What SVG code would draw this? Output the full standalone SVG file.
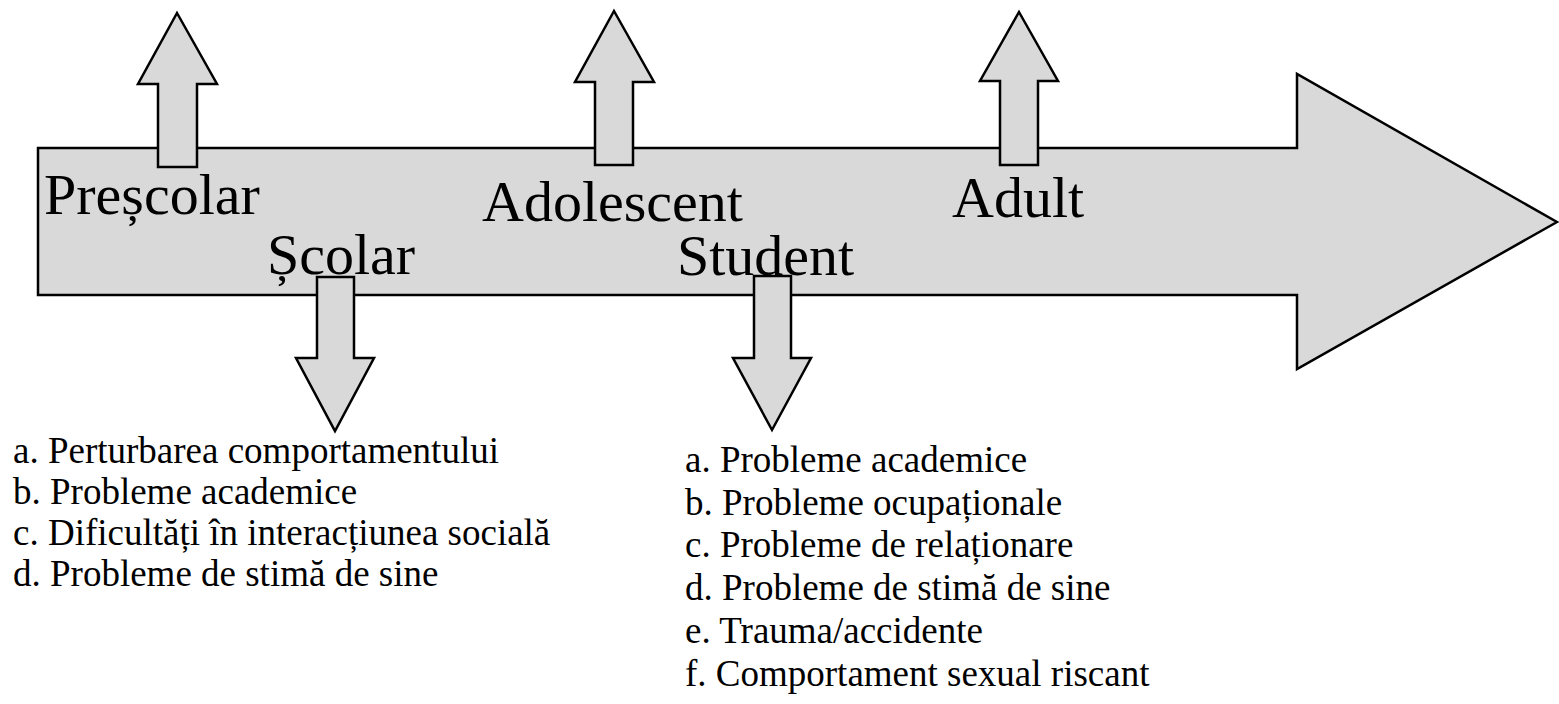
<svg xmlns="http://www.w3.org/2000/svg" width="1559" height="704" viewBox="0 0 1559 704">
  <style>
    .shape { fill: #d9d9d9; stroke: #000; stroke-width: 2.5; stroke-linejoin: miter; }
    .stage { font-family: "Liberation Serif", "Times New Roman", serif; font-size: 58px; fill: #000; }
    .item { font-family: "Liberation Serif", "Times New Roman", serif; font-size: 37px; fill: #000; }
  </style>
  <rect width="1559" height="704" fill="#fff"/>

  <!-- main timeline arrow -->
  <g id="timeline">
    <polygon class="shape" points="38,148 1297,148 1297,74 1557,222 1297,369 1297,295 38,295"/>
  </g>

  <!-- stage labels -->
  <g id="labels">
    <text class="stage" x="44" y="214">Preșcolar</text>
    <text class="stage" x="267" y="274">Școlar</text>
    <text class="stage" x="482" y="221">Adolescent</text>
    <text class="stage" x="677" y="275">Student</text>
    <text class="stage" x="952" y="217">Adult</text>
  </g>

  <!-- upward markers -->
  <g id="up-prescolar">
    <polygon class="shape" points="177,13 217,84 197,84 197,167 158,167 158,84 138,84"/>
  </g>
  <g id="up-adolescent">
    <polygon class="shape" points="614,11 654,82 633,82 633,165 595,165 595,82 575,82"/>
  </g>
  <g id="up-adult">
    <polygon class="shape" points="1019,12 1058,81 1038,81 1038,165 1000,165 1000,81 980,81"/>
  </g>

  <!-- downward markers -->
  <g id="down-scolar">
    <polygon class="shape" points="317,277 354,277 354,358 374,358 335,431 296,358 317,358"/>
  </g>
  <g id="down-student">
    <polygon class="shape" points="754,276 791,276 791,358 811,358 772,430 733,358 754,358"/>
  </g>

  <!-- school-age list -->
  <g id="list-scolar" class="item">
    <text x="13" y="463">a. Perturbarea comportamentului</text>
    <text x="13" y="504">b. Probleme academice</text>
    <text x="13" y="545">c. Dificultăți în interacțiunea socială</text>
    <text x="13" y="586">d. Probleme de stimă de sine</text>
  </g>

  <!-- student list -->
  <g id="list-student" class="item">
    <text x="685" y="472">a. Probleme academice</text>
    <text x="685" y="515">b. Probleme ocupaționale</text>
    <text x="685" y="557">c. Probleme de relaționare</text>
    <text x="685" y="600">d. Probleme de stimă de sine</text>
    <text x="685" y="643">e. Trauma/accidente</text>
    <text x="685" y="686">f. Comportament sexual riscant</text>
  </g>
</svg>
